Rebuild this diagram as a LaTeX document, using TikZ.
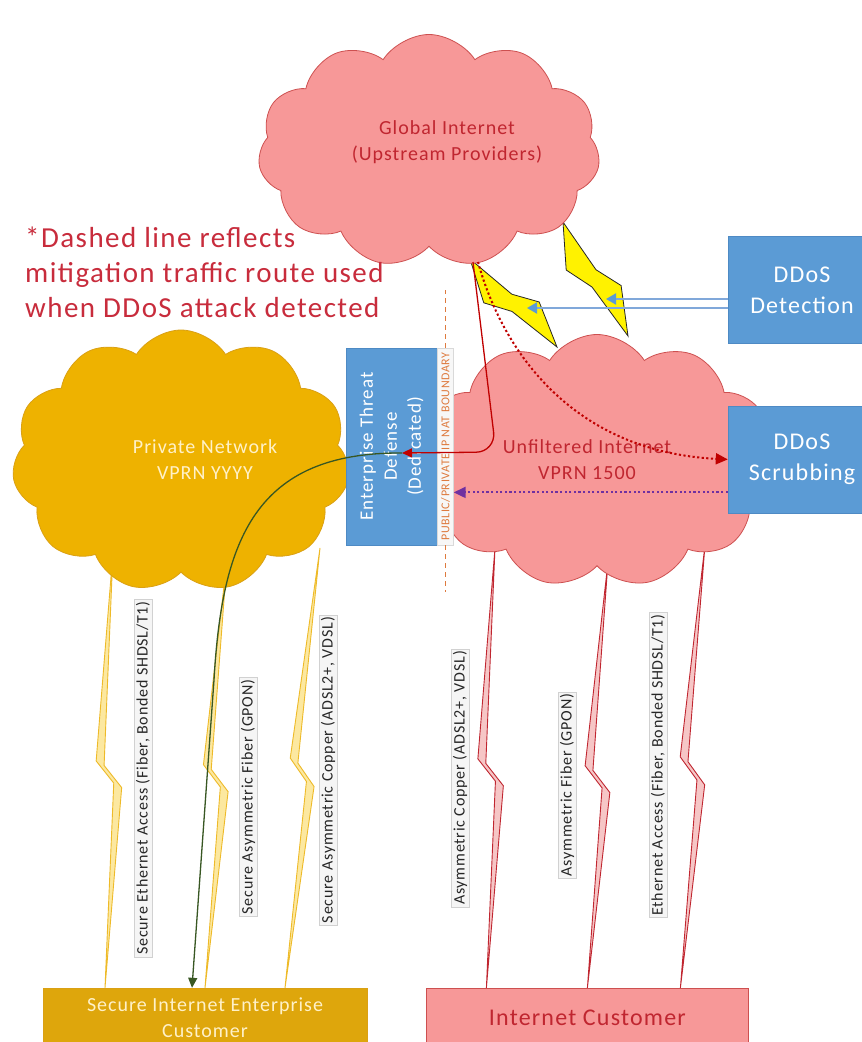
\documentclass[tikz,border=0pt]{standalone}
\usepackage{fontspec}
\setmainfont{Carlito}[LetterSpace=5]
\usetikzlibrary{shapes.symbols, arrows.meta, positioning, calc}

\definecolor{cloudpink}{RGB}{247,152,152}
\definecolor{cloudedge}{RGB}{205,80,80}
\definecolor{inkred}{RGB}{192,38,48}
\definecolor{cloudgold}{RGB}{238,178,0}
\definecolor{goldedge}{RGB}{218,160,20}
\definecolor{boxgold}{RGB}{222,166,12}
\definecolor{cream}{RGB}{255,241,200}
\definecolor{ddosblue}{RGB}{91,155,213}
\definecolor{blueedge}{RGB}{78,138,196}
\definecolor{lineblue}{RGB}{128,168,218}
\definecolor{natorange}{RGB}{222,122,62}
\definecolor{routegreen}{RGB}{56,87,35}
\definecolor{routered}{RGB}{192,0,0}
\definecolor{scrubpurple}{RGB}{112,48,160}
\definecolor{goldlink}{RGB}{238,186,40}
\definecolor{goldlinkfill}{RGB}{252,232,160}
\definecolor{redlinkfill}{RGB}{246,198,198}
\definecolor{notered}{RGB}{200,44,60}

% lightning link: tips and notches as (fraction along, offset across)
\newcommand{\boltshape}[8]{\def\bLu{#1}\def\bLv{#2}\def\bNu{#3}\def\bNv{#4}\def\bRu{#5}\def\bRv{#6}\def\bMu{#7}\def\bMv{#8}}
\newcommand{\netbolt}[3]{%
  \coordinate (boltL) at ($(#2)!\bLu!(#3)$);
  \coordinate (boltN) at ($(#2)!\bNu!(#3)$);
  \coordinate (boltR) at ($(#2)!\bRu!(#3)$);
  \coordinate (boltM) at ($(#2)!\bMu!(#3)$);
  \draw[#1] (#2) -- ($(boltN)!\bNv!90:(#3)$) -- ($(boltR)!\bRv!90:(#3)$) -- (#3)
    -- ($(boltM)!\bMv!90:(#3)$) -- ($(boltL)!\bLv!90:(#3)$) -- cycle;
}

\begin{document}
\begin{tikzpicture}[x=1pt, y=-1pt,
        netcloud/.style={cloud, cloud puffs=11, cloud puff arc=115, cloud ignores aspect, line width=0.8pt, inner sep=0pt},
        pinkcloud/.style={netcloud, draw=cloudedge, fill=cloudpink},
        goldcloud/.style={netcloud, draw=goldedge, fill=cloudgold},
        cloudtext/.style={align=center, font=\fontsize{20}{26}\selectfont},
        bluebox/.style={rectangle, draw=blueedge, fill=ddosblue, text=white, align=center, inner sep=0pt},
        ddosbox/.style={bluebox, minimum width=148pt, minimum height=107pt, font=\fontsize{24}{31}\selectfont},
        custbox/.style={rectangle, minimum height=60pt, align=center, inner sep=0pt},
        linklbl/.style={rotate=90, fill=black!4, draw=black!18, line width=0.4pt, inner sep=2pt, font=\fontsize{16}{18}\selectfont, text=black!85},
        goldbolt/.style={draw=goldlink, fill=goldlinkfill, line width=0.9pt},
        redbolt/.style={draw=inkred, fill=redlinkfill, line width=0.9pt},
        sparkbolt/.style={draw=black!85, fill=yellow, line width=0.8pt},
        routeline/.style={line width=1.3pt, -{Triangle[length=10pt,width=9pt]}},
        mitig/.style={line width=2pt, dash pattern=on 2.2pt off 2.4pt, -{Triangle[length=12pt,width=11pt]}},
        detectline/.style={draw=lineblue, line width=2pt, -{Triangle[length=10pt,width=11pt,color=ddosblue]}}
    ]
        \useasboundingbox (0,0) rectangle (862,1042);
        \fill[white] (0,0) rectangle (862,1042);

        % customers
        \node[custbox, minimum width=324pt, fill=boxgold, draw=goldedge, text=cream, font=\fontsize{20}{26}\selectfont] (secure) at (205,1018) {Secure Internet Enterprise\\Customer};
        \node[custbox, minimum width=322pt, fill=cloudpink, draw=cloudedge, text=inkred, font=\fontsize{24}{26}\selectfont, right=59pt of secure] (inet) {Internet Customer};

        % access links
        \coordinate (g1) at (113,552);
        \coordinate (g2) at (227,560);
        \coordinate (g3) at (320,548);
        \coordinate (r1) at (495,548);
        \coordinate (r2) at (608,562);
        \coordinate (r3) at (705,545);
        \coordinate (g1b) at ([xshift=-100pt]secure.north);
        \coordinate (g2b) at (secure.north);
        \coordinate (g3b) at ([xshift=80pt]secure.north);
        \coordinate (r1b) at ([xshift=-101pt]inet.north);
        \coordinate (r2b) at (inet.north);
        \coordinate (r3b) at ([xshift=93pt]inet.north);
        \boltshape{0.48}{-13pt}{0.49}{-5pt}{0.54}{13pt}{0.53}{5pt}
        \netbolt{goldbolt}{g1}{g1b}
        \netbolt{goldbolt}{g2}{g2b}
        \netbolt{goldbolt}{g3}{g3b}
        \netbolt{redbolt}{r1}{r1b}
        \netbolt{redbolt}{r2}{r2b}
        \netbolt{redbolt}{r3}{r3b}

        % upstream links
        \coordinate (s1a) at (470,259);
        \coordinate (s1b) at (557,347);
        \coordinate (s2a) at (563,222);
        \coordinate (s2b) at (628,336);
        \boltshape{0.33}{-21pt}{0.44}{5pt}{0.64}{19pt}{0.54}{-7pt}
        \netbolt{sparkbolt}{s1a}{s1b}
        \netbolt{sparkbolt}{s2a}{s2b}

        % clouds
        \node[pinkcloud, minimum width=342pt, minimum height=233pt] (global) at (429,151) {};
        \node[cloudtext, text=inkred] (globaltxt) at (447,142) {Global Internet\\(Upstream Providers)};
        \node[goldcloud, minimum width=338pt, minimum height=262pt] (private) at (181,461) {};
        \node[cloudtext, text=cream] (privatetxt) at (205,460) {Private Network\\VPRN YYYY};
        \node[pinkcloud, minimum width=355pt, minimum height=253pt] (unfilt) at (597,461) {};
        \node[cloudtext, text=inkred] (unfilttxt) at (587,460) {Unfiltered Internet\\VPRN 1500};

        % threat defense and NAT boundary
        \node[bluebox, rotate=90, minimum width=197pt, minimum height=91pt, font=\fontsize{19}{24}\selectfont] (etd) at (391.5,446.5) {Enterprise Threat\\Defense\\(Dedicated)};
        \node[rotate=90, draw=black!15, fill=black!3, minimum width=197pt, minimum height=16pt, inner sep=0pt, text=natorange, font=\fontsize{12}{13}\selectfont] (nat) at (445.5,446.5) {PUBLIC/PRIVATE IP NAT BOUNDARY};
        \draw[natorange, line width=1.5pt, dash pattern=on 5pt off 4pt] (nat.east) -- ++(0,-58);
        \draw[natorange, line width=1.5pt, dash pattern=on 5pt off 4pt] (nat.west) -- ++(0,47);

        % DDoS platform
        \node[ddosbox] (detect) at (802,290) {DDoS\\Detection};
        \node[ddosbox, below=62pt of detect] (scrub) {DDoS\\Scrubbing};

        % link labels
        \node[linklbl] (g1lbl) at (143,778) {Secure Ethernet Access (Fiber, Bonded SHDSL/T1)};
        \node[linklbl] (g2lbl) at (248,797) {Secure Asymmetric Fiber (GPON)};
        \node[linklbl] (g3lbl) at (328,770) {Secure Asymmetric Copper (ADSL2+, VDSL)};
        \node[linklbl] (r1lbl) at (460,778) {Asymmetric Copper (ADSL2+, VDSL)};
        \node[linklbl] (r2lbl) at (567,785) {Asymmetric Fiber (GPON)};
        \node[linklbl] (r3lbl) at (658,765) {Ethernet Access (Fiber, Bonded SHDSL/T1)};

        % traffic routes
        \coordinate (handoff) at (402,453);
        \coordinate (gout) at (473,262);
        \coordinate (hit1) at (527,308);
        \coordinate (hit2) at (606,299);
        \coordinate (scrubout) at ([yshift=-33pt]scrub.west);
        \draw[routeline, routegreen] (handoff) .. controls (255,452) and (222,540) .. (214,680) -- ([xshift=-13pt]secure.north);
        \draw[routeline, routered, rounded corners=20pt] (gout) -- (496,452) -- (handoff);
        \draw[mitig, routered] ([xshift=5pt]gout) .. controls (505,360) and (580,452) .. (scrub.west);
        \draw[mitig, scrubpurple] (scrubout) -- (nat.south |- scrubout);
        \draw[detectline] ([yshift=-9pt]detect.west) -- (hit2);
        \draw[detectline] ([yshift=-18pt]detect.west) -- (hit1);

        \node[text=notered, anchor=north west, align=left, inner sep=0pt, font=\fontsize{29}{35}\selectfont] (note) at (25,227) {*Dashed line reflects\\mitigation traffic route used\\when DDoS attack detected};
    \end{tikzpicture}
\end{document}
